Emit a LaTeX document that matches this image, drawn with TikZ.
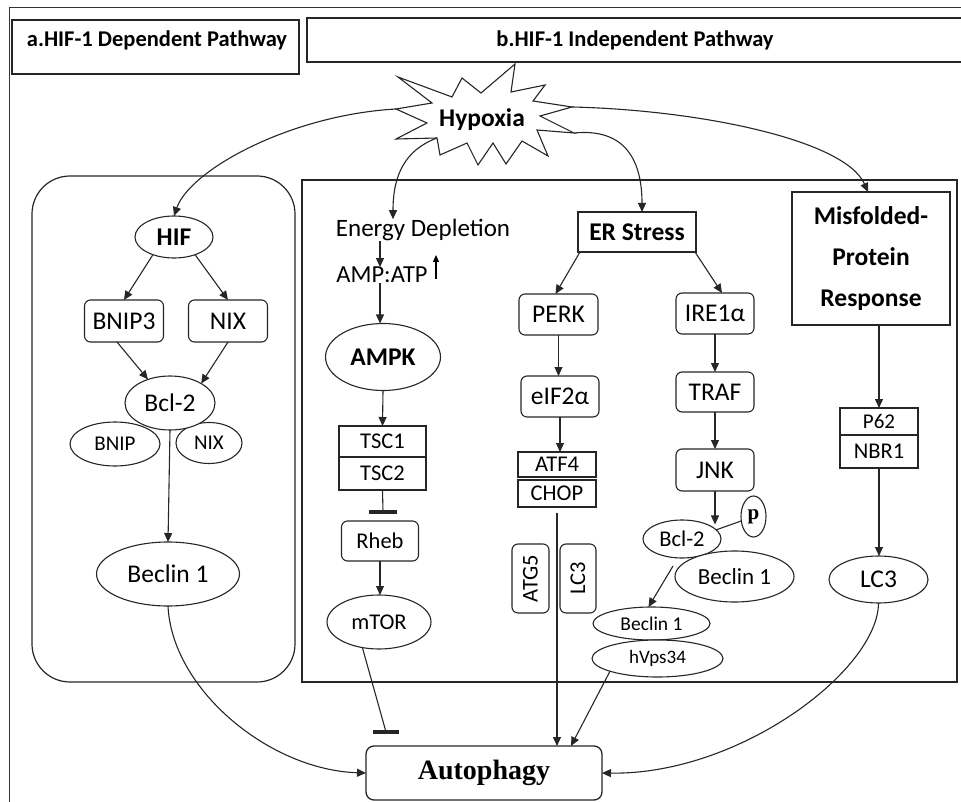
\documentclass[tikz,border=0pt]{standalone}
\usepackage{fontspec}
\usepackage{graphicx}
\setmainfont{Carlito}
\newfontfamily\autofont{Liberation Serif}
\newfontfamily\pfont{Liberation Serif}
\usetikzlibrary{shapes.geometric,arrows.meta,calc}
\begin{document}
\begin{tikzpicture}[x=1pt,y=-1pt,
  every node/.style={inner sep=0pt, outer sep=0pt},
  ln/.style={line width=1.1pt, draw=black!85},
  arr/.style={ln, -{Triangle[length=9pt,width=8pt]}},
  rbox/.style={draw=black!85, line width=1.1pt, rounded corners=6pt, fill=white},
  sbox/.style={draw=black!85, line width=1.1pt, fill=white},
  ell/.style={draw=black!85, ellipse, line width=1.1pt, fill=white},
  fL/.style={font=\fontsize{25.5}{29}\selectfont},
  fM/.style={font=\fontsize{22.5}{26}\selectfont},
  fS/.style={font=\fontsize{19.5}{23}\selectfont},
  fB/.style={font=\fontsize{25.5}{29}\selectfont\bfseries},
  fH/.style={font=\fontsize{22.5}{26}\selectfont\bfseries},
]
\useasboundingbox (0,0) rectangle (961,802);

% outer frame (only top and left visible)
\draw[line width=0.9pt, black!80] (9,802) -- (9,7) -- (961,7);

% header boxes
\node[sbox, minimum width=287, minimum height=54] (boxa) at (155.5,47) {};
\node[fH] (la) at (157,40) {a.HIF-1 Dependent Pathway};
\draw[line width=1.1pt, black!85] (961,18) -- (307,18) -- (307,62) -- (961,62);
\node[fH] (lb) at (635,40) {b.HIF-1 Independent Pathway};

% group frames
\draw[line width=1.2pt, black!85, rounded corners=38pt] (32,176) rectangle (295,682);
\draw[line width=1.6pt, black!85] (302,180) rectangle (957,682);

% Hypoxia burst
\coordinate (hT) at (515,64);
\coordinate (hR1) at (572,107);
\coordinate (hR2) at (574,133);
\coordinate (hL) at (396,109);
\coordinate (hE) at (437,138);
\draw[line width=1.1pt, black!85, fill=white, line join=miter]
  (hT) -- (511,92) -- (545,85) -- (533,101) -- (hR1) -- (540,116) -- (hR2)
  -- (537,130) -- (548,156) -- (522,141) -- (506,164) -- (493,143) -- (478,165)
  -- (467,143) -- (440,155) -- (hE) -- (396,139) -- (427,123) -- (hL)
  -- (432,103) -- (398,77) -- (452,97) -- (462,78) -- (481,93) -- cycle;
\node[fB] (hyp) at (482,120) {Hypoxia};

% ---------- HIF-1 dependent ----------
\node[ell, fB, minimum width=78, minimum height=42] (hif) at (174,237) {HIF};
\node[rbox, fL, minimum width=79, minimum height=42] (bnip3) at (124,321) {BNIP3};
\node[rbox, fL, minimum width=79, minimum height=42] (nix) at (228,321) {NIX};
\node[ell, font=\fontsize{21}{25}\selectfont, minimum width=90, minimum height=44] (bnip) at (115,444) {BNIP};
\node[ell, font=\fontsize{21}{25}\selectfont, minimum width=66, minimum height=41] (nixs) at (209,443) {NIX};
\node[ell, fL, minimum width=90, minimum height=54] (bcla) at (170,403) {Bcl-2};
\node[ell, fL, minimum width=143, minimum height=64] (beca) at (168,574) {Beclin 1};

\draw[arr] (hif.220) -- (bnip3.north);
\draw[arr] (hif.320) -- (nix.north);
\draw[arr] ([xshift=-7pt]bnip3.south) -- (bcla.133);
\draw[arr] (nix.south) -- (bcla.32);
\draw[arr] (bcla.south) -- (beca.north);

% ---------- Autophagy ----------
\node[rbox, rounded corners=8pt, line width=1.3pt, minimum width=236, minimum height=54,
      font=\autofont\bfseries\fontsize{28}{30}\selectfont] (auto) at (484,773) {Autophagy};

% ---------- Energy depletion branch ----------
\node[font=\fontsize{25}{29}\selectfont] (ened) at (423,230) {Energy Depletion};
\node[font=\fontsize{24.5}{28}\selectfont] (amp) at (382,275) {AMP:ATP};
\coordinate (upa) at (436,279);
\coordinate (upb) at (436,255);
\draw[line width=1.2pt, -{Triangle[length=7pt,width=6pt]}] (upa) -- (upb);
\node[ell, fB, minimum width=115, minimum height=67] (ampk) at (383,357) {AMPK};
\node[sbox, fM, minimum width=87, minimum height=31] (tsc1) at (382.5,441.5) {TSC1};
\node[sbox, fM, minimum width=87, minimum height=33] (tsc2) at (382.5,473.5) {TSC2};
\node[rbox, fM, minimum width=77, minimum height=40] (rheb) at (380,541) {Rheb};
\node[ell, fM, minimum width=104, minimum height=54] (mtor) at (379,622) {mTOR};

\draw[arr] ([xshift=-2pt]amp.north |- ened.south) -- ([xshift=-2pt]amp.north);
\draw[arr] ([xshift=-2pt]amp.south) -- ([xshift=-2pt]amp.south |- ampk.north);
\draw[arr] (ampk.south) -- (tsc1.north);
\coordinate (tbar) at (383,512);
\draw[ln] (tsc2.south) -- (tbar);
\draw[line width=3.5pt, black!85] ([xshift=-14pt]tbar) -- ([xshift=14pt]tbar);
\draw[arr] (rheb.south) -- (rheb.south |- mtor.north);
\coordinate (mbar) at (386,732);
\draw[ln] (mtor.237) -- (mbar);
\draw[line width=3.5pt, black!85] ([xshift=-13pt]mbar) -- ([xshift=13pt]mbar);

% ---------- ER stress branch ----------
\node[sbox, fB, minimum width=118, minimum height=40] (er) at (637,232) {ER Stress};
\node[rbox, fL, minimum width=79, minimum height=41] (perk) at (558.5,314.5) {PERK};
\node[rbox, fL, minimum width=78, minimum height=41] (eif) at (560,396.5) {eIF2α};
\node[sbox, fM, minimum width=78, minimum height=25] (atf) at (557,464.5) {ATF4};
\node[sbox, fM, minimum width=78, minimum height=27] (chop) at (557,493.5) {CHOP};
\node[rbox, fM, minimum width=37, minimum height=69] (atg) at (530.5,578.5) {\rotatebox{90}{ATG5}};
\node[rbox, fM, minimum width=36, minimum height=69] (lcv) at (578,578.5) {\rotatebox{90}{LC3}};

\node[rbox, fL, minimum width=78, minimum height=41] (ire) at (715,313.5) {IRE1α};
\node[rbox, fL, minimum width=78, minimum height=40] (traf) at (715,392) {TRAF};
\node[rbox, fL, minimum width=78, minimum height=42] (jnk) at (715,470) {JNK};
\node[ell, fM, minimum width=78, minimum height=38] (bclb) at (682,539) {Bcl-2};
\node[ell, font=\pfont\bfseries\fontsize{21}{24}\selectfont, minimum width=25, minimum height=41] (p) at (753.5,516.5) {p};
\node[ell, font=\fontsize{23}{27}\selectfont, minimum width=119, minimum height=51] (becb) at (734.5,576.5) {Beclin 1};
\node[ell, fS, minimum width=117, minimum height=33] (becl) at (651.5,623.5) {Beclin 1};
\node[ell, font=\fontsize{19}{23}\selectfont, minimum width=131, minimum height=37] (hvps) at (657.5,658.5) {hVps34};

\draw[arr] ([xshift=2pt]er.south west) -- ([xshift=-3pt]perk.north);
\draw[arr] ([xshift=-1pt]er.south east) -- ([xshift=7pt]ire.north);
\draw[arr] (perk.south) -- (perk.south |- eif.north);
\draw[arr] (eif.south) -- (eif.south |- atf.north);
\draw[arr] ([yshift=-6pt]chop.south) -- (chop.south |- auto.north);
\draw[arr] (ire.south) -- (traf.north);
\draw[arr] (traf.south) -- (jnk.north);
\draw[arr] (jnk.south) -- (jnk.south |- bclb.30);
\draw[ln] (p.200) -- (bclb.15);
\draw[arr] ([xshift=-9pt,yshift=-8pt]bclb.south) -- ([xshift=-3pt]becl.north);
\draw[arr] (hvps.195) -- ([xshift=87pt]auto.north);

% ---------- Misfolded protein branch ----------
\node[sbox, font=\fontsize{25.5}{41}\selectfont\bfseries, align=center, minimum width=158, minimum height=133] (mis) at (871,258.5) {Misfolded-\\Protein\\Response};
\node[sbox, font=\fontsize{21}{24}\selectfont, minimum width=78, minimum height=27] (p62) at (879,421.5) {P62};
\node[sbox, font=\fontsize{22.5}{26}\selectfont, minimum width=78, minimum height=33] (nbr) at (879,451.5) {NBR1};
\node[ell, fL, minimum width=99, minimum height=47] (lcr) at (878.5,579.5) {LC3};
\draw[arr] (p62.north |- mis.south) -- (p62.north);
\draw[arr] (nbr.south) -- (nbr.south |- lcr.north);

% ---------- connectors from Hypoxia ----------
\draw[arr] (hL) .. controls (290,115) and (190,170) .. (hif.north);
\draw[arr] (hE) .. controls (405,150) and (393,175) .. (ened.north -| 393,0);
\draw[arr] (hR2) .. controls (625,128) and (642,160) .. ([xshift=5pt]er.north);
\draw[arr] (hR1) .. controls (700,110) and (845,140) .. ([xshift=-3pt]mis.north);

% ---------- into Autophagy ----------
\draw[arr] (beca.south) .. controls (172,690) and (270,770) .. (auto.west);
\draw[arr] (lcr.south) .. controls (878,670) and (740,775) .. (auto.east);
\end{tikzpicture}
\end{document}
